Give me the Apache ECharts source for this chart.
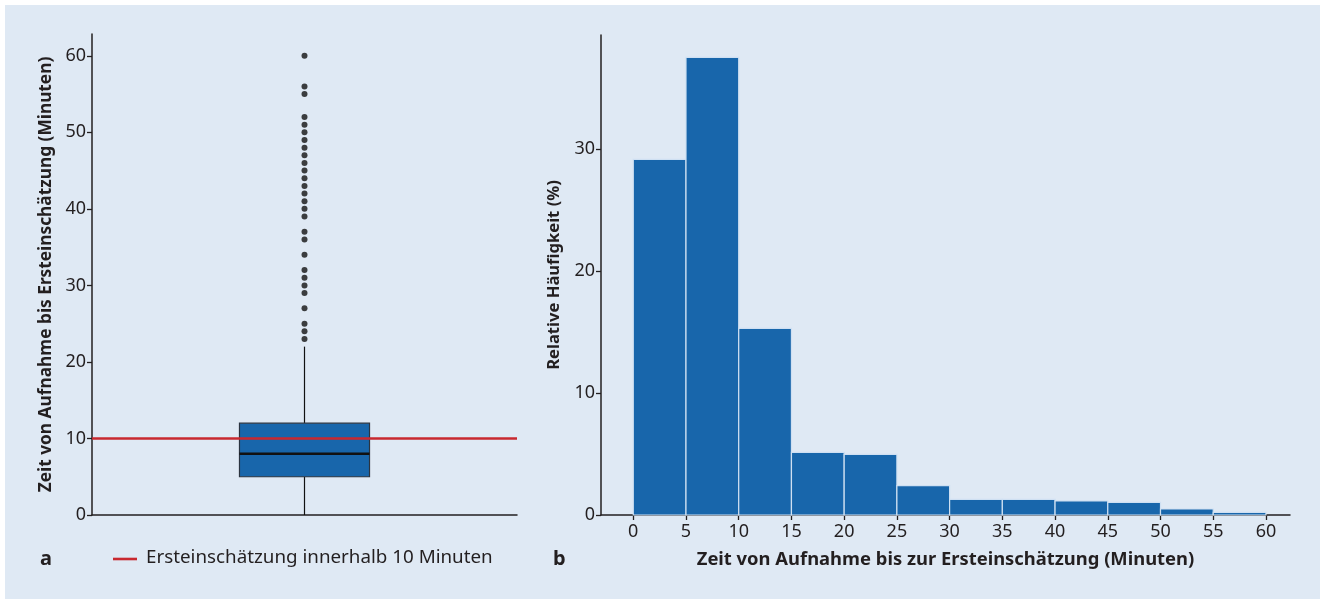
<!DOCTYPE html>
<html><head><meta charset="utf-8">
<script src="https://cdn.jsdelivr.net/npm/echarts@6/dist/echarts.min.js"></script>
<style>html,body{margin:0;padding:0;background:#fff;}#c{width:1321px;height:601px;}</style>
</head><body><div id="c"></div>
<script>
// Panel a: boxplot of time until first assessment (minutes)
const boxStats = [0, 5, 8, 12, 22]; // whiskerLow, Q1, median, Q3, whiskerHigh
const outliers = [23,24,25,27,29,30,31,32,34,36,37,39,40,41,42,43,44,45,46,47,48,49,50,51,52,55,56,60];
const thresholdMinutes = 10;
const boxTicks = [0,10,20,30,40,50,60];
// Panel b: histogram
const binStarts = [0,5,10,15,20,25,30,35,40,45,50,55];
const binEnds   = [5,10,15,20,25,30,35,40,45,50,55,60];
const relFreq   = [29.15,37.5,15.3,5.14,4.97,2.4,1.28,1.28,1.15,1.04,0.49,0.22];
const histXTicks = [0,5,10,15,20,25,30,35,40,45,50,55,60];
const histYTicks = [0,10,20,30];

const FONT = 'Noto Sans';
const TXT = '#231f20';
const BLUE = '#1866ab';
const RED = '#c8282f';

const chart = echarts.init(document.getElementById('c'), null, {renderer:'canvas'});
const axisLineStyle = {lineStyle:{color:TXT,width:1.5}};
const tickStyle = {show:true,length:5,lineStyle:{color:TXT,width:1.3}};
const lbl = {color:TXT,fontFamily:FONT,fontSize:18};

chart.setOption({
  backgroundColor:'#ffffff',
  animation:false,
  graphic:[
    {type:'rect',shape:{x:5,y:5,width:1315,height:594},style:{fill:'#dfe9f4'},z:-10},
    {type:'text',x:40,y:559,style:{text:'a',font:'bold 20px "Noto Sans"',fill:TXT,verticalAlign:'middle'}},
    {type:'line',shape:{x1:113,y1:559,x2:137,y2:559},style:{stroke:RED,lineWidth:2.6}},
    {type:'text',x:146,y:558,style:{text:'Ersteinschätzung innerhalb 10 Minuten',font:'18.8px "Noto Sans"',fill:TXT,verticalAlign:'middle'}},
    {type:'text',x:553,y:559,style:{text:'b',font:'bold 20px "Noto Sans"',fill:TXT,verticalAlign:'middle'}}
  ],
  grid:[
    {left:92,top:34,width:425,height:481},
    {left:601,top:35,width:689,height:480}
  ],
  xAxis:[
    {gridIndex:0,type:'value',min:0,max:2,axisLine:axisLineStyle,axisTick:{show:false},axisLabel:{show:false},splitLine:{show:false}},
    {gridIndex:1,type:'value',min:-3.06,max:62.28,
     axisLine:Object.assign({onZero:false},axisLineStyle),
     axisTick:Object.assign({customValues:histXTicks},tickStyle),
     axisLabel:Object.assign({customValues:histXTicks,margin:8},lbl),
     splitLine:{show:false},
     name:'Zeit von Aufnahme bis zur Ersteinschätzung (Minuten)',nameLocation:'middle',nameGap:36,
     nameTextStyle:{color:TXT,fontFamily:FONT,fontSize:18.4,fontWeight:'bold'}}
  ],
  yAxis:[
    {gridIndex:0,type:'value',min:0,max:62.85,
     axisLine:Object.assign({show:true,onZero:false},axisLineStyle),
     axisTick:Object.assign({customValues:boxTicks},tickStyle),
     axisLabel:Object.assign({customValues:boxTicks,margin:6},lbl),
     splitLine:{show:false},
     name:'Zeit von Aufnahme bis Ersteinschätzung (Minuten)',nameLocation:'middle',nameGap:37,
     nameTextStyle:{color:TXT,fontFamily:FONT,fontSize:17.3,fontWeight:'bold'}},
    {gridIndex:1,type:'value',min:0,max:39.34,
     axisLine:Object.assign({show:true,onZero:false},axisLineStyle),
     axisTick:Object.assign({customValues:histYTicks},tickStyle),
     axisLabel:Object.assign({customValues:histYTicks,margin:6},lbl),
     splitLine:{show:false},
     name:'Relative Häufigkeit (%)',nameLocation:'middle',nameGap:38,
     nameTextStyle:{color:TXT,fontFamily:FONT,fontSize:16.6,fontWeight:'bold'}}
  ],
  series:[
    {
      type:'custom',xAxisIndex:0,yAxisIndex:0,
      data:[[1].concat(boxStats)],
      encode:{x:0,y:[1,2,3,4,5]},
      renderItem:function(params,api){
        const cx = api.value(0);
        const lo = api.coord([cx, api.value(1)]);
        const q1 = api.coord([cx, api.value(2)]);
        const md = api.coord([cx, api.value(3)]);
        const q3 = api.coord([cx, api.value(4)]);
        const hi = api.coord([cx, api.value(5)]);
        const halfW = api.size([0.612,0])[0]/2;
        return {type:'group',children:[
          {type:'line',shape:{x1:lo[0],y1:lo[1],x2:q1[0],y2:q1[1]},style:{stroke:'#111',lineWidth:1.2}},
          {type:'line',shape:{x1:q3[0],y1:q3[1],x2:hi[0],y2:hi[1]},style:{stroke:'#111',lineWidth:1.2}},
          {type:'rect',shape:{x:q1[0]-halfW,y:q3[1],width:2*halfW,height:q1[1]-q3[1]},style:{fill:BLUE,stroke:'#2b3440',lineWidth:1.2}},
          {type:'line',shape:{x1:md[0]-halfW,y1:md[1],x2:md[0]+halfW,y2:md[1]},style:{stroke:'#111',lineWidth:2.6}}
        ]};
      },
      markLine:{silent:true,symbol:'none',label:{show:false},
        lineStyle:{color:RED,width:2.6,type:'solid'},
        data:[{yAxis:thresholdMinutes}]},
      z:3
    },
    {
      type:'scatter',xAxisIndex:0,yAxisIndex:0,
      data:outliers.map(v=>[1,v]),
      symbol:'circle',symbolSize:6,itemStyle:{color:'#111'},z:4
    },
    {
      type:'custom',xAxisIndex:1,yAxisIndex:1,
      data:binStarts.map((s,i)=>[s,binEnds[i],relFreq[i]]),
      encode:{x:[0,1],y:2},
      renderItem:function(params,api){
        const p0 = api.coord([api.value(0),0]);
        const p1 = api.coord([api.value(1),api.value(2)]);
        return {type:'rect',shape:{x:p0[0],y:p1[1],width:p1[0]-p0[0],height:p0[1]-p1[1]},
          style:{fill:BLUE,stroke:'#cfe0f2',lineWidth:1.2}};
      },
      z:2
    }
  ]
});
</script></body></html>
